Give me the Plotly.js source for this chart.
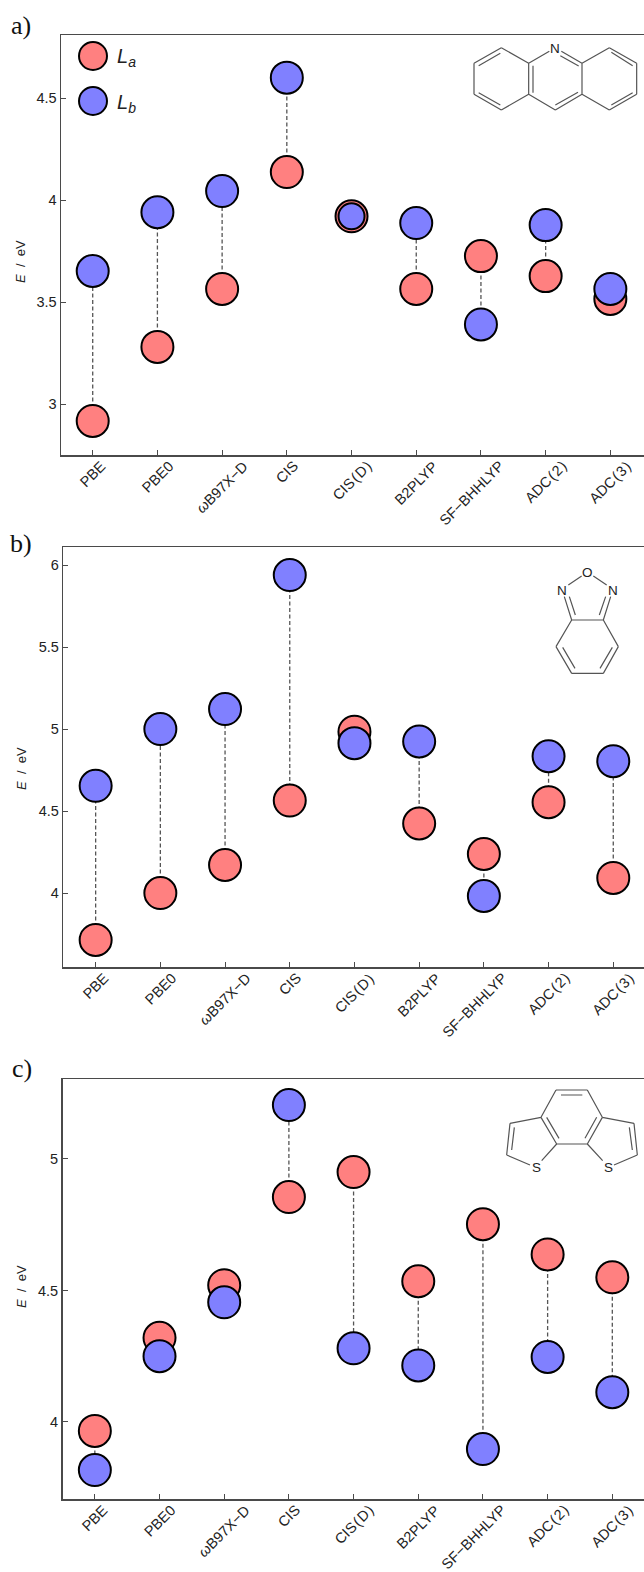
<!DOCTYPE html>
<html><head><meta charset="utf-8">
<script src="https://cdn.plot.ly/plotly-3.0.1.min.js"></script>
<style>html,body{margin:0;padding:0;background:#fff}</style></head>
<body><div id="chart" style="width:644px;height:1572px"></div>
<script>
const categories = ['PBE','PBE0','<i>ω</i>B97X\u2212D','CIS','CIS\u200A(\u200AD\u200A)','B2PLYP','SF\u2212BHHLYP','ADC\u200A(\u200A2\u200A)','ADC\u200A(\u200A3\u200A)'];
const laA = [2.917,3.28,3.564,4.137,3.92,3.564,3.725,3.627,3.515];
const lbA = [3.652,3.94,4.044,4.6,3.92,3.887,3.39,3.877,3.564];
const laB = [3.714,4.0,4.171,4.564,4.984,4.424,4.238,4.554,4.092];
const lbB = [4.654,5.0,5.122,5.939,4.914,4.924,3.982,4.834,4.804];
const laC = [3.966,4.32,4.52,4.855,4.95,4.535,4.752,4.637,4.55];
const lbC = [3.817,4.25,4.455,5.205,4.28,4.215,3.897,4.247,4.113];
const ticksA = [3,3.5,4,4.5];
const ticksB = [4,4.5,5,5.5,6];
const ticksC = [4,4.5,5];

const W=644,H=1572;
const px=x=>x/W, py=y=>1-y/H;
const RED='#ff8080',BLUE='#8080ff',FONT='"Liberation Sans",Arial,sans-serif',AXIS='#4a4a4a',TXT='#222';
const panels=[
 {s:'',  la:laA,lb:lbA,ticks:ticksA,left:61,  top:35,  bottom:455, xr:[-0.49,8.52],yr:[2.75,4.809],tag:'a)',tx:9,ty:25,ey:262},
 {s:'2', la:laB,lb:lbB,ticks:ticksB,left:63.3,top:547, bottom:967, xr:[-0.50,8.475],yr:[3.549,6.11],tag:'b)',tx:8, ty:543,ey:769},
 {s:'3', la:laC,lb:lbC,ticks:ticksC,left:62.5,top:1079,bottom:1499,xr:[-0.50,8.49],yr:[3.707,5.304],tag:'c)',tx:10,ty:1068,ey:1287}
];
const idx=categories.map((_,i)=>i);
const data=[],annotations=[],shapes=[];
const layout={width:W,height:H,autosize:false,margin:{l:0,r:0,t:0,b:0},paper_bgcolor:'#fff',plot_bgcolor:'#fff',showlegend:false,font:{family:FONT,color:TXT}};

panels.forEach((p,k)=>{
  const xa='x'+p.s, ya='y'+p.s;
  const lx=[],ly=[];
  idx.forEach(i=>{lx.push(i,i,null);ly.push(p.la[i],p.lb[i],null);});
  data.push({type:'scatter',mode:'lines',x:lx,y:ly,xaxis:xa,yaxis:ya,connectgaps:false,hoverinfo:'skip',
    line:{color:'#555',width:1.3,dash:'4px,2.5px'}});
  data.push({type:'scatter',mode:'markers',name:'La',x:idx,y:p.la,xaxis:xa,yaxis:ya,
    marker:{size:32,opacity:1,color:RED,line:{color:'#000',width:2}}});
  data.push({type:'scatter',mode:'markers',name:'Lb',x:idx,y:p.lb,xaxis:xa,yaxis:ya,
    marker:{size:idx.map(i=>(k===0&&i===4)?26:32),opacity:1,color:BLUE,line:{color:'#000',width:2}}});
  layout['xaxis'+p.s]={domain:[px(p.left),1],range:p.xr,anchor:ya,tickmode:'array',tickvals:idx,showticklabels:false,
    ticks:'inside',ticklen:5,tickwidth:1,tickcolor:AXIS,showline:true,linecolor:AXIS,linewidth:1.5,mirror:true,showgrid:false,zeroline:false};
  layout['yaxis'+p.s]={domain:[py(p.bottom),py(p.top)],range:p.yr,anchor:xa,tickmode:'array',tickvals:p.ticks,ticktext:p.ticks.map(String),
    ticks:'inside',ticklen:5,tickwidth:1,tickcolor:AXIS,showline:true,linecolor:AXIS,linewidth:1.5,showgrid:false,zeroline:false,
    tickfont:{size:14.5,color:TXT,family:FONT}};
  categories.forEach((c,i)=>annotations.push({text:c,x:i,xref:xa,y:py(p.bottom+3),yref:'paper',xanchor:'center',yanchor:'top',
    xshift:i===6?-9:0,textangle:-45,showarrow:false,font:{size:14.5,color:TXT,family:FONT},borderpad:0,borderwidth:0}));
  annotations.push({text:p.tag,x:px(p.tx),xref:'paper',y:py(p.ty),yref:'paper',xanchor:'left',yanchor:'middle',showarrow:false,
    font:{family:'"Liberation Serif",serif',size:26,color:'#111'}});
  annotations.push({text:'<i>E</i>  /  eV',x:px(21),xref:'paper',y:py(p.ey),yref:'paper',xanchor:'center',yanchor:'middle',textangle:-90,showarrow:false,
    font:{size:13,color:TXT,family:FONT}});
});

// legend inside panel a
[[56,RED,'<i>L<sub>a</sub></i>'],[101,BLUE,'<i>L<sub>b</sub></i>']].forEach(([y,c,t])=>{
  shapes.push({type:'circle',xref:'paper',yref:'paper',x0:px(79),x1:px(107),y0:py(y+14),y1:py(y-14),fillcolor:c,line:{color:'#000',width:2},layer:'above'});
  annotations.push({text:t,x:px(115),xref:'paper',y:py(y+2),yref:'paper',xanchor:'left',yanchor:'middle',showarrow:false,font:{size:20,color:TXT,family:FONT}});
});

// molecule sketches: line segments in zoomed-crop pixels
function bonds(ox,oy,segs,atoms){
  let d='';
  segs.forEach(s=>{d+=`M${px(ox+s[0]/3)},${py(oy+s[1]/3)}L${px(ox+s[2]/3)},${py(oy+s[3]/3)}`;});
  shapes.push({type:'path',path:d,xref:'paper',yref:'paper',line:{color:'#555',width:1.2},layer:'above'});
  atoms.forEach(a=>annotations.push({text:a[0],x:px(ox+a[1]/3),y:py(oy+a[2]/3),xref:'paper',yref:'paper',xanchor:'center',yanchor:'middle',showarrow:false,font:{size:13.5,color:'#222',family:FONT}}));
}
bonds(322,0,[
 [538,143,456,190],[456,190,456,283],[456,283,538,330],[538,330,620,283],[620,283,620,190],[620,190,538,143],
 [620,190,682,154],[718,154,780,190],[780,190,780,283],[780,283,700,330],[700,330,620,283],
 [780,190,862,143],[862,143,944,190],[944,190,944,283],[944,283,862,330],[862,330,780,283],
 [470,197,535,160],[470,278,535,315],[633,197,633,278],[700,315,768,277],[715,167,770,198],[868,157,932,197],[932,278,868,315]
],[['N',700,146]]);
bonds(500,550,[
 [245,78,205,105],[280,78,320,105],[193,140,215,210],[208,140,226,195],[332,140,310,210],[317,140,298,195],[215,210,310,210],
 [215,210,168,290],[168,290,215,370],[215,370,310,370],[310,370,355,290],[355,290,310,210],[188,292,225,355],[300,355,337,292]
],[['O',262,66],['N',187,122],['N',338,122]]);
bonds(480,1070,[
 [228,60,322,60],[243,75,307,75],[228,60,183,142],[322,60,367,142],[183,142,230,222],[200,142,237,205],[230,222,322,222],[367,142,322,222],[350,142,315,205],
 [183,142,90,160],[90,160,80,255],[103,172,95,240],[80,255,150,285],[230,222,185,272],
 [367,142,462,160],[462,160,472,255],[448,172,457,240],[472,255,402,285],[322,222,368,272]
],[['S',168,293],['S',385,293]]);

layout.annotations=annotations;layout.shapes=shapes;
Plotly.newPlot('chart',data,layout,{displayModeBar:false,staticPlot:true});
</script></body></html>
